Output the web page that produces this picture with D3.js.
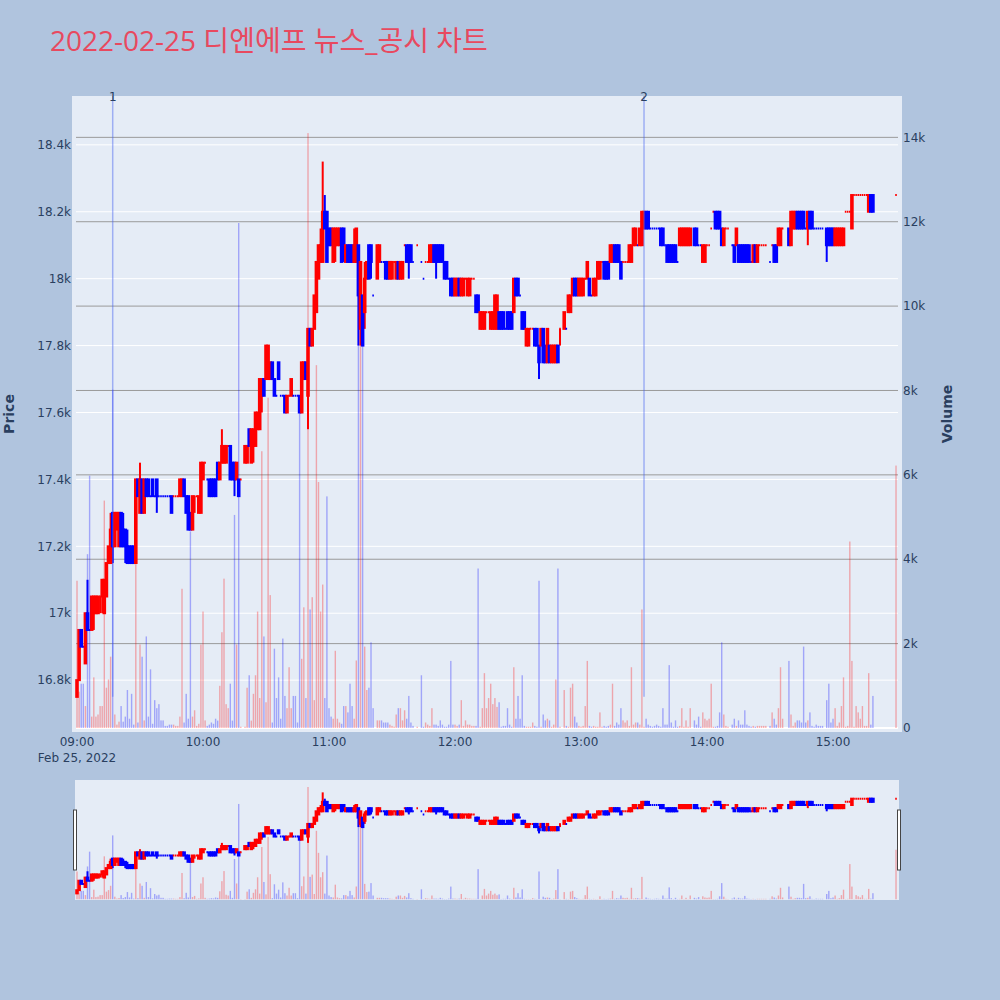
<!DOCTYPE html>
<html>
<head>
<meta charset="utf-8">
<script src="https://cdn.jsdelivr.net/npm/d3@7"></script>
<style>
  body { margin: 0; background: #b0c4de; }
  text { font-family: "DejaVu Sans", sans-serif; }
</style>
</head>
<body>
<div id="chart"></div>
<script>
/* DATA : one row per traded minute, minute = minutes after 09:00 */
const minute = [
  0,1,2,3,4,5,6,7,8,9, 10,11,12,13,14,15,16,17,18,19,
  20,21,22,23,24,25,26,27,28,29, 30,31,32,33,34,35,36,37,38,39,
  40,41,42,43,44,45,46,47,48,49, 50,51,52,53,54,55,56,57,58,59,
  60,61,62,63,64,65,66,67,68,69, 70,71,72,73,74,75,76,77,78,
  80,81,82,83,84,85,86,87,88,89, 90,91,92,93,94,95,96,97,98,99,
  100,101,102,103,104,105,106,107,108,109, 110,111,112,113,114,115,116,117,118,119,
  120,121,122,123,124,125,126,127,128,129, 130,131,132,133,134,135,136,137,138,139,
  140,141,
  143,144,145,146,147,148,149,150,151,152, 153,154,155,156,157,158,159,160,
  162,
  164,165,166,167,168,169,170,171,172,173, 174,175,176,177,178,179,180,181,182,183,
  184,185,186,187,188,189,190,191,192,193, 194,195,196,197,198,199,200,201,202,203,
  204,205,206,207,208,209,210,211,212,213, 214,215,216,217,218,219,220,221,222,223,
  224,225,226,227,228,229,230,
  232,233,234,235,236,237,238,239,240,241, 242,243,244,245,246,247,248,249,250,251,
  252,253,254,255,256,257,258,259,260,261, 262,263,264,265,266,267,268,269,270,271,
  272,273,274,275,276,277,278,279,280,281, 282,283,284,285,286,287,288,289,290,291,
  292,
  294,295,296,297,298,299,300,301,302,303, 304,305,306,307,308,309,310,
  312,313,314,315,316,317,318,319,320,321, 322,323,324,325,326,327,328,
  330,331,332,333,334,335,336,
  339,340,341,342,343,344,345,346,347,348, 349,350,351,352,353,354,355,
  357,358,359,360,361,362,363,364,365,366, 367,368,369,370,371,372,373,374,375,376,
  377,378,379,
  390
];

const open = [
  16750,16800,16950,16900,16850,17000,16950,16950,17000,17000, 17000,17050,17050,17000,17050,17150,17150,17300,17200,17250,
  17200,17300,17250,17250,17200,17200,17200,17200,17150,17400, 17300,17400,17300,17400,17400,17350,17400,17350,17400,17350,
  17350,17350,17350,17350,17350,17350,17350,17350,17350,17350, 17350,17400,17350,17350,17300,17250,17350,17350,17300,17300,
  17400,17450,17400,17400,17400,17400,17400,17450,17400,17450, 17450,17450,17500,17500,17450,17450,17400,17400,17400,
  17450,17450,17550,17450,17500,17500,17550,17550,17650,17700, 17700,17700,17700,17750,17700,17650,17750,17650,17650,17650,
  17600,17650,17650,17650,17650,17650,17650,17600,17700,17750, 17650,17850,17800,17850,17900,18000,18050,18050,18200,18200,
  18150,18150,18050,18100,18100,18100,18150,18150,18050,18100, 18100,18100,18050,18050,18100,17850,17950,17900,18000,18100,
  18100,17950,
  18000,18050,18050,18050,18050,18050,18000,18000,18050,18000, 18050,18000,18000,18100,18100,18100,18100,18050,
  18100,
  18050,18000,18050,18050,18050,18050,18100,18100,18100,18100, 18100,18050,18050,18000,18000,18000,17950,17950,18000,17950,
  17950,18000,17950,17950,18000,18000,17950,17950,17850,17850, 17850,17900,17900,17850,17850,17850,17850,17900,17900,17900,
  17850,17900,17900,17900,17900,18000,18000,17950,17900,17900, 17800,17800,17850,17850,17850,17850,17800,17800,17850,17800,
  17750,17800,17750,17750,17750,17800,17850,
  17850,17850,17900,17900,17950,18000,18000,17950,17950,17950, 18000,18000,18000,17950,17950,17950,18000,18000,18050,18050,
  18050,18050,18050,18050,18100,18100,18100,18050,18050,18050, 18050,18050,18050,18100,18100,18100,18100,18100,18150,18200,
  18200,18150,18150,18150,18150,18150,18150,18150,18100,18100, 18100,18100,18100,18100,18050,18100,18100,18100,18100,18100,
  18100,
  18150,18150,18100,18100,18050,18050,18100,18100,18150,18200, 18200,18200,18200,18150,18100,18150,18150,
  18100,18100,18100,18100,18100,18100,18100,18100,18100,18050, 18050,18100,18050,18100,18100,18100,18100,
  18050,18100,18100,18100,18100,18100,18150,
  18150,18100,18150,18150,18200,18200,18200,18200,18150,18150, 18200,18200,18150,18150,18150,18150,18150,
  18150,18150,18150,18150,18100,18100,18100,18100,18100,18200, 18200,18200,18150,18250,18250,18250,18250,18250,18250,18250,
  18200,18250,18250,
  18250
];

const high = [
  16800,16950,16950,16900,17000,17100,16950,17050,17050,17050, 17050,17050,17100,17100,17150,17200,17300,17300,17300,17300,
  17300,17300,17300,17250,17250,17200,17200,17200,17400,17400, 17450,17400,17400,17400,17400,17350,17400,17350,17400,17350,
  17350,17350,17350,17350,17350,17350,17350,17350,17350,17400, 17400,17400,17350,17350,17300,17350,17350,17350,17350,17450,
  17450,17450,17400,17400,17400,17400,17400,17450,17450,17550, 17500,17500,17500,17500,17450,17450,17450,17400,17400,
  17500,17500,17550,17550,17550,17600,17600,17700,17700,17700, 17800,17800,17750,17750,17700,17650,17750,17650,17650,17650,
  17650,17650,17700,17650,17650,17650,17650,17750,17750,17750, 17850,17850,17850,17950,18050,18100,18150,18350,18250,18200,
  18150,18150,18150,18150,18150,18150,18150,18150,18100,18100, 18100,18100,18150,18150,18100,18050,17950,18050,18050,18100,
  18100,17950,
  18100,18100,18050,18050,18050,18050,18050,18050,18050,18050, 18050,18050,18050,18100,18100,18100,18100,18050,
  18100,
  18050,18000,18050,18050,18100,18100,18100,18100,18100,18100, 18100,18050,18050,18000,18000,18000,18000,18000,18000,18000,
  18000,18000,18000,18000,18000,18000,17950,17950,17900,17900, 17900,17900,17900,17900,17900,17950,17950,17900,17900,17900,
  17850,17900,17900,17900,18000,18000,18000,17950,17900,17900, 17850,17850,17850,17850,17850,17850,17800,17850,17850,17800,
  17850,17800,17800,17800,17800,17800,17850,
  17900,17850,17950,17950,18000,18000,18000,18000,18000,18000, 18000,18050,18000,17950,18000,18000,18050,18050,18050,18050,
  18050,18050,18100,18100,18100,18100,18100,18050,18050,18050, 18050,18100,18100,18150,18150,18100,18150,18200,18200,18200,
  18200,18150,18150,18150,18150,18150,18150,18150,18100,18100, 18100,18100,18100,18100,18050,18150,18150,18150,18150,18150,
  18150,
  18150,18150,18100,18100,18100,18100,18100,18100,18150,18200, 18200,18200,18200,18150,18150,18150,18150,
  18100,18100,18150,18100,18100,18100,18100,18100,18100,18050, 18100,18100,18100,18100,18100,18100,18100,
  18050,18100,18100,18100,18150,18150,18150,
  18150,18200,18200,18200,18200,18200,18200,18200,18150,18200, 18200,18200,18150,18150,18150,18150,18150,
  18150,18150,18150,18150,18150,18150,18150,18150,18150,18200, 18200,18200,18250,18250,18250,18250,18250,18250,18250,18250,
  18250,18250,18250,
  18250
];

const low = [
  16750,16800,16900,16900,16850,16950,16950,16950,16950,17000, 17000,17000,17000,17000,17050,17150,17150,17150,17200,17250,
  17200,17200,17200,17150,17150,17150,17150,17150,17150,17350, 17300,17300,17300,17350,17350,17350,17350,17350,17300,17350,
  17350,17350,17350,17350,17350,17300,17350,17350,17350,17350, 17350,17350,17300,17250,17250,17250,17300,17350,17300,17300,
  17400,17450,17400,17350,17350,17350,17350,17400,17400,17450, 17450,17450,17500,17400,17400,17350,17400,17350,17400,
  17450,17450,17500,17450,17450,17500,17550,17550,17600,17650, 17700,17700,17700,17700,17650,17650,17700,17650,17650,17600,
  17600,17650,17650,17650,17650,17650,17600,17600,17700,17700, 17550,17800,17800,17850,17900,18000,18050,18050,18150,18050,
  18100,18100,18050,18050,18100,18100,18050,18050,18050,18050, 18050,18050,18050,18050,17800,17800,17800,17850,18000,18000,
  18000,17950,
  18000,18050,18050,18050,18000,18000,18000,18000,18050,18000, 18000,18000,18000,18100,18050,18000,18050,18050,
  18100,
  18050,18000,18050,18050,18050,18050,18050,18000,18050,18050, 18050,18000,18000,18000,17950,17950,17950,17950,17950,17950,
  17950,18000,17950,17950,18000,18000,17900,17900,17850,17850, 17850,17900,17900,17850,17850,17850,17850,17850,17850,17850,
  17850,17850,17850,17850,17900,17950,17950,17950,17850,17850, 17800,17800,17850,17850,17800,17800,17700,17800,17750,17750,
  17750,17750,17750,17750,17750,17750,17800,
  17850,17850,17900,17900,17950,17950,17950,17950,17950,17950, 18000,18000,17950,17950,17950,17950,18000,18000,18050,18000,
  18000,18000,18050,18050,18050,18050,18050,18000,18050,18050, 18050,18050,18050,18100,18100,18100,18100,18100,18150,18150,
  18150,18150,18150,18150,18150,18150,18100,18100,18100,18050, 18050,18050,18050,18050,18050,18100,18100,18100,18100,18100,
  18100,
  18100,18100,18100,18100,18050,18050,18100,18100,18150,18200, 18150,18150,18150,18100,18100,18150,18150,
  18100,18050,18100,18050,18050,18050,18050,18050,18050,18050, 18050,18050,18050,18100,18100,18100,18100,
  18050,18100,18050,18050,18100,18100,18150,
  18100,18100,18150,18150,18150,18150,18150,18150,18150,18100, 18150,18150,18150,18150,18150,18150,18150,
  18050,18100,18100,18100,18100,18100,18100,18100,18100,18200, 18200,18200,18150,18250,18250,18250,18250,18250,18250,18250,
  18200,18200,18200,
  18250
];

const close = [
  16800,16950,16900,16900,17000,16950,16950,17050,17050,17050, 17050,17050,17100,17100,17150,17200,17250,17200,17300,17300,
  17300,17200,17200,17200,17150,17150,17150,17150,17400,17350, 17400,17300,17400,17350,17350,17350,17350,17350,17350,17350,
  17350,17350,17350,17350,17350,17300,17350,17350,17350,17400, 17400,17350,17300,17250,17250,17350,17350,17350,17350,17450,
  17450,17450,17400,17350,17350,17350,17350,17400,17450,17500, 17500,17500,17500,17400,17400,17400,17450,17350,17400,
  17500,17500,17500,17550,17550,17600,17600,17700,17700,17650, 17800,17800,17750,17700,17650,17650,17700,17650,17650,17600,
  17650,17650,17700,17650,17650,17650,17600,17750,17750,17700, 17850,17800,17850,17950,18050,18100,18100,18200,18150,18050,
  18100,18100,18150,18150,18150,18150,18050,18100,18100,18050, 18050,18050,18100,18150,17950,18050,17800,18000,18050,18000,
  18050,17950,
  18100,18100,18050,18050,18000,18000,18050,18050,18050,18050, 18000,18050,18050,18100,18050,18050,18050,18050,
  18100,
  18050,18000,18050,18050,18100,18100,18050,18050,18050,18050, 18050,18000,18000,18000,17950,17950,18000,18000,17950,18000,
  18000,18000,18000,18000,18000,18000,17900,17900,17900,17900, 17900,17900,17900,17900,17900,17950,17950,17850,17850,17850,
  17850,17850,17850,17850,18000,17950,17950,17950,17850,17850, 17850,17850,17850,17850,17800,17800,17750,17850,17750,17750,
  17850,17750,17800,17800,17800,17750,17850,
  17900,17850,17950,17950,18000,17950,17950,18000,18000,18000, 18000,18050,17950,17950,18000,18000,18050,18050,18050,18000,
  18000,18000,18100,18100,18050,18050,18050,18000,18050,18050, 18050,18100,18100,18150,18150,18100,18150,18200,18200,18150,
  18150,18150,18150,18150,18150,18150,18100,18100,18100,18050, 18050,18050,18050,18050,18050,18150,18150,18150,18150,18150,
  18150,
  18100,18100,18100,18100,18100,18100,18100,18100,18150,18200, 18150,18150,18150,18100,18150,18150,18150,
  18100,18050,18150,18050,18050,18050,18050,18050,18050,18050, 18100,18050,18100,18100,18100,18100,18100,
  18050,18100,18050,18050,18150,18150,18150,
  18100,18200,18200,18200,18150,18150,18150,18150,18150,18200, 18150,18150,18150,18150,18150,18150,18150,
  18100,18100,18100,18100,18150,18150,18150,18150,18150,18200, 18200,18200,18250,18250,18250,18250,18250,18250,18250,18250,
  18250,18200,18200,
  18250
];

const volume = [
  3490,860,1050,1050,520,4120,5980,270,1200,270, 320,520,520,5390,955,1150,1690,8020,320,80,
  150,520,150,270,900,220,810,80,3880,130, 1980,1690,180,2170,270,1390,100,660,470,565,
  180,180,50,50,80,80,80,50,50,270, 3300,130,810,220,4660,270,420,50,100,1980,
  2760,180,50,80,130,100,220,175,1000,2270, 3540,565,470,1050,175,5050,1980,11970,30,
  30,955,1250,175,810,1250,2760,710,6560,2170, 610,7830,3150,130,1880,710,1200,220,2120,760,
  470,1440,470,760,760,130,7580,1640,2860,710, 14100,2810,3100,660,8600,5830,2760,3400,710,5490,
  470,270,220,1830,220,130,100,520,520,370, 1050,520,220,1600,9100,9100,9100,1930,900,955,
  2030,470,
  180,180,180,130,130,130,80,50,30,320, 470,470,180,420,220,760,130,50,
  30,
  1250,30,130,80,50,470,80,80,50,180, 80,30,30,80,1590,80,80,50,80,660,
  50,180,80,80,50,50,50,3780,30,470, 1300,470,710,1050,565,710,500,610,30,50,
  50,470,80,30,1440,220,760,220,1250,50, 30,30,30,130,50,30,3490,30,320,180,
  220,180,30,80,1150,3780,30,
  900,50,30,955,1050,270,130,50,30,50, 520,1590,50,30,50,30,30,370,30,50,
  30,50,80,1050,50,130,80,470,180,130, 180,50,1440,80,130,130,80,2810,30,220,
  80,50,30,50,80,50,30,470,80,80, 1490,130,30,180,30,50,470,30,180,30,
  470,
  180,80,270,30,370,220,180,220,1050,30, 30,50,370,2030,320,50,30,
  80,220,50,180,80,80,420,80,50,30, 50,30,50,50,50,50,50,
  50,370,220,80,470,1440,220,
  1590,320,50,130,180,180,130,1930,130,180, 370,50,30,80,50,50,50,
  660,1050,130,220,470,50,130,520,1200,30, 50,4420,1590,30,520,370,220,520,50,50,
  1300,80,760,
  6220
];

/* news / disclosure markers */
const newsTime = ["09:17", "13:30"];
const newsLabel = ["1", "2"];

const titleText = "2022-02-25 디엔에프 뉴스_공시 차트";

/* CONSTANTS */
const width = 1000;
const height = 1000;
const plot = { left: 72, right: 902, top: 96, bottom: 732 };
const slider = { left: 75, right: 899, top: 780, bottom: 900 };
const textColor = "#2a3f5f";
const upColor = "#ff0000";
const downColor = "#0000ff";

const day = new Date(2022, 1, 25, 9, 0, 0);
const atMinute = m => new Date(day.getTime() + m * 60000);
const atClock = s => { const [h, m] = s.split(":").map(Number); return new Date(2022, 1, 25, h, m, 0); };

const candles = minute.map((m, i) => ({
  time: atMinute(m), o: open[i], h: high[i], l: low[i], c: close[i], v: volume[i]
}));

// direction: close vs open, ties resolved against previous close
let prevClose = null, prevUp = true;
candles.forEach(d => {
  let up;
  if (d.c > d.o) up = true;
  else if (d.c < d.o) up = false;
  else if (prevClose !== null && d.c > prevClose) up = true;
  else if (prevClose !== null && d.c < prevClose) up = false;
  else up = prevUp;
  d.up = up;
  prevUp = up;
  prevClose = d.c;
});

/* SCALES */
const xScale = d3.scaleTime()
  .domain([new Date(2022, 1, 25, 8, 57, 37), new Date(2022, 1, 25, 15, 32, 51)])
  .range([plot.left, plot.right]);

const priceDomain = [16645, 18546];
const volDomain = [-95, 14980];

const yPrice = d3.scaleLinear().domain(priceDomain).range([plot.bottom, plot.top]);
const yVol = d3.scaleLinear().domain(volDomain).range([plot.bottom, plot.top]);
const yPriceS = d3.scaleLinear().domain(priceDomain).range([slider.bottom, slider.top]);
const yVolS = d3.scaleLinear().domain(volDomain).range([slider.bottom, slider.top]);

/* SVG */
const svg = d3.select("#chart")
  .append("svg")
  .attr("width", width)
  .attr("height", height)
  .style("background-color", "#b0c4de");

svg.append("text")
  .attr("x", 50)
  .attr("y", 51)
  .style("font-family", "'Open Sans', 'Noto Sans CJK KR', sans-serif")
  .style("font-size", "28px")
  .attr("fill", "#e8495f")
  .text(titleText);

svg.append("rect")
  .attr("x", plot.left).attr("y", plot.top)
  .attr("width", plot.right - plot.left).attr("height", plot.bottom - plot.top)
  .attr("fill", "#e5ecf6");

const gridX0 = 76, gridX1 = 898;
const priceTicks = yPrice.ticks(10);
const volTicks = yVol.ticks(8);

svg.append("g").selectAll("line")
  .data(priceTicks)
  .join("line")
  .attr("x1", gridX0).attr("x2", gridX1)
  .attr("y1", d => yPrice(d)).attr("y2", d => yPrice(d))
  .attr("stroke", "#ffffff").attr("stroke-width", 1);

svg.append("g").selectAll("line")
  .data(volTicks.filter(d => d !== 0))
  .join("line")
  .attr("x1", gridX0).attr("x2", gridX1)
  .attr("y1", d => yVol(d)).attr("y2", d => yVol(d))
  .attr("stroke", "#9a9a9a").attr("stroke-width", 1);

svg.append("line")
  .attr("x1", gridX0).attr("x2", gridX1)
  .attr("y1", yVol(0)).attr("y2", yVol(0))
  .attr("stroke", "#ffffff").attr("stroke-width", 2);

/* axes */
const fmtK = d3.format("~s");

svg.append("g").selectAll("text")
  .data(priceTicks)
  .join("text")
  .attr("x", 71).attr("y", d => yPrice(d)).attr("dy", "0.35em")
  .attr("text-anchor", "end")
  .style("font-size", "12px").attr("fill", textColor)
  .text(fmtK);

svg.append("g").selectAll("text")
  .data(volTicks)
  .join("text")
  .attr("x", 903).attr("y", d => yVol(d)).attr("dy", "0.35em")
  .attr("text-anchor", "start")
  .style("font-size", "12px").attr("fill", textColor)
  .text(fmtK);

const hourTicks = xScale.ticks(d3.timeHour.every(1));
svg.append("g").selectAll("text")
  .data(hourTicks)
  .join("text")
  .attr("x", d => xScale(d)).attr("y", 746)
  .attr("text-anchor", "middle")
  .style("font-size", "12px").attr("fill", textColor)
  .text(d3.timeFormat("%H:%M"));

svg.append("text")
  .attr("x", xScale(hourTicks[0])).attr("y", 762)
  .attr("text-anchor", "middle")
  .style("font-size", "12px").attr("fill", textColor)
  .text(d3.timeFormat("%b %-d, %Y")(hourTicks[0]));

svg.append("text")
  .attr("transform", `translate(14,${(plot.top + plot.bottom) / 2}) rotate(-90)`)
  .attr("text-anchor", "middle")
  .style("font-size", "14px").style("font-weight", "bold").attr("fill", textColor)
  .text("Price");

svg.append("text")
  .attr("transform", `translate(952,${(plot.top + plot.bottom) / 2}) rotate(-90)`)
  .attr("text-anchor", "middle")
  .style("font-size", "14px").style("font-weight", "bold").attr("fill", textColor)
  .text("Volume");

/* marks */
svg.append("clipPath").attr("id", "clip-main")
  .append("rect")
  .attr("x", plot.left).attr("y", plot.top)
  .attr("width", plot.right - plot.left).attr("height", plot.bottom - plot.top);

svg.append("clipPath").attr("id", "clip-slider")
  .append("rect")
  .attr("x", slider.left).attr("y", slider.top)
  .attr("width", slider.right - slider.left).attr("height", slider.bottom - slider.top);

const bodyW = 1.6;
const barW = 1.4;

function drawCandles(g, yP) {
  g.selectAll(".wick")
    .data(candles)
    .join("line")
    .attr("class", "wick")
    .attr("x1", d => xScale(d.time)).attr("x2", d => xScale(d.time))
    .attr("y1", d => yP(d.h)).attr("y2", d => yP(d.l))
    .attr("stroke", d => d.up ? upColor : downColor)
    .attr("stroke-width", 2);

  g.selectAll(".body")
    .data(candles)
    .join("path")
    .attr("class", "body")
    .attr("d", d => {
      const cx = xScale(d.time);
      const y0 = yP(Math.max(d.o, d.c));
      const y1 = yP(Math.min(d.o, d.c));
      return `M${cx - bodyW / 2},${y0}H${cx + bodyW / 2}V${y1}H${cx - bodyW / 2}Z`;
    })
    .attr("fill", d => d.up ? upColor : downColor)
    .attr("stroke", d => d.up ? upColor : downColor)
    .attr("stroke-width", 2)
    .attr("stroke-linejoin", "miter");
}

function drawVolume(g, yV) {
  g.selectAll(".vol")
    .data(candles)
    .join("rect")
    .attr("class", "vol")
    .attr("x", d => xScale(d.time) - barW / 2)
    .attr("width", barW)
    .attr("y", d => yV(d.v))
    .attr("height", d => yV(0) - yV(d.v))
    .attr("fill", d => d.up ? "rgba(255,0,0,0.3)" : "rgba(0,0,255,0.3)");
}

const mainG = svg.append("g").attr("clip-path", "url(#clip-main)");
drawCandles(mainG.append("g"), yPrice);
drawVolume(mainG.append("g"), yVol);

/* news markers */
const minLow = d3.min(candles, d => d.l);
const news = newsTime.map((t, i) => ({ time: atClock(t), label: newsLabel[i] }));

svg.append("g").selectAll("line")
  .data(news)
  .join("line")
  .attr("x1", d => xScale(d.time)).attr("x2", d => xScale(d.time))
  .attr("y1", yPrice(minLow)).attr("y2", plot.top)
  .attr("stroke", "rgba(70,100,240,0.45)").attr("stroke-width", 1.5);

svg.append("g").selectAll("text")
  .data(news)
  .join("text")
  .attr("x", d => xScale(d.time)).attr("y", 101)
  .attr("text-anchor", "middle")
  .style("font-size", "12px").attr("fill", textColor)
  .text(d => d.label);

/* range slider */
svg.append("rect")
  .attr("x", slider.left).attr("y", slider.top)
  .attr("width", slider.right - slider.left).attr("height", slider.bottom - slider.top)
  .attr("fill", "#e5ecf6");

const sliderG = svg.append("g").attr("clip-path", "url(#clip-slider)");
drawCandles(sliderG.append("g"), yPriceS);
drawVolume(sliderG.append("g"), yVolS);

svg.append("g").selectAll("rect")
  .data([slider.left, slider.right])
  .join("rect")
  .attr("x", d => d - 1.5).attr("y", 810)
  .attr("width", 3).attr("height", 60)
  .attr("fill", "#ffffff").attr("stroke", "#444").attr("stroke-width", 1);
</script>
</body>
</html>
